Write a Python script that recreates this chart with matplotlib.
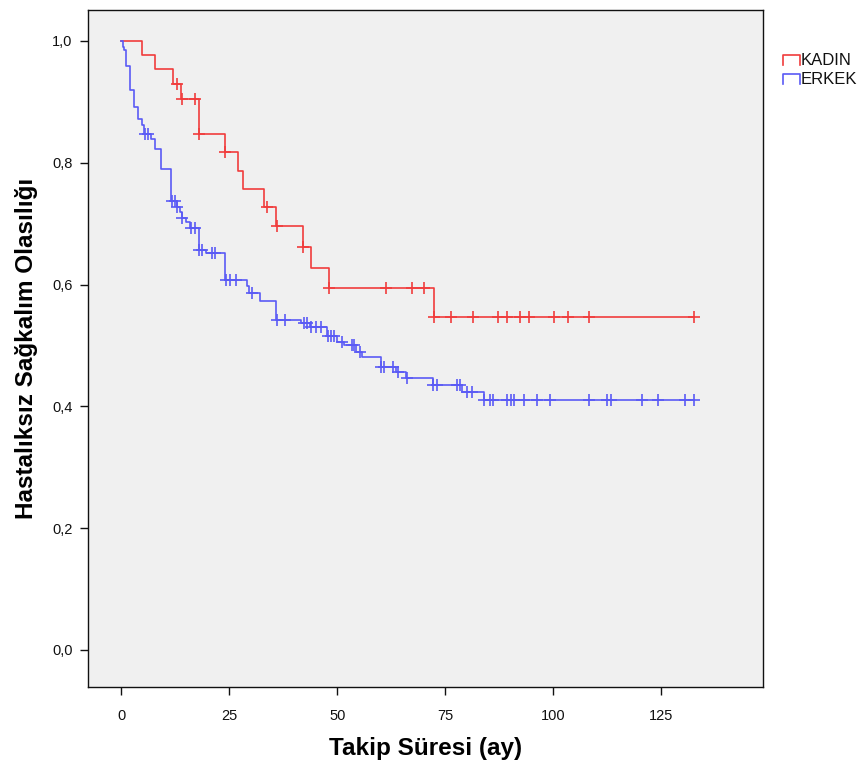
import numpy as np
import matplotlib.pyplot as plt
from matplotlib.lines import Line2D

plt.rcParams['font.family'] = ['Liberation Sans', 'DejaVu Sans']

# KADIN (kadın hastalar)
kadin_olay_t = [4.8, 7.9, 12.0, 13.9, 18.0, 24.0, 27.1, 28.1, 33.1, 35.9, 42.0, 44.0, 48.0, 72.3]
kadin_olay_s = [0.977, 0.954, 0.929, 0.904, 0.847, 0.818, 0.786, 0.757, 0.727, 0.696, 0.662, 0.627, 0.594, 0.547]
kadin_sansur_t = [12.8, 14.0, 17.0, 18.0, 24.0, 33.8, 36.0, 42.0, 48.0, 61.2, 67.2, 70.1, 72.3,
                  76.2, 81.3, 87.2, 89.2, 92.3, 94.3, 100.2, 103.3, 108.2, 132.6]

# ERKEK (erkek hastalar)
erkek_olay_t = [0.3, 0.6, 1.0, 2.0, 2.9, 3.9, 4.8, 5.3, 7.0, 7.9, 9.1, 11.6, 12.9, 13.6, 14.0,
                15.0, 16.0, 18.0, 19.5, 24.0, 29.0, 29.6, 32.1, 35.9, 41.5, 43.6, 47.6, 50.0,
                51.5, 54.3, 55.8, 60.0, 63.5, 66.0, 72.2, 78.8, 84.0]
erkek_olay_s = [0.990, 0.985, 0.959, 0.919, 0.891, 0.872, 0.862, 0.848, 0.839, 0.823, 0.789, 0.737,
                0.727, 0.719, 0.710, 0.703, 0.693, 0.656, 0.652, 0.608, 0.597, 0.586, 0.573, 0.541,
                0.536, 0.531, 0.516, 0.506, 0.500, 0.489, 0.481, 0.465, 0.457, 0.446, 0.435, 0.424,
                0.410]
erkek_sansur_t = [5.5, 6.3, 11.7, 12.4, 13.0, 14.0, 16.2, 17.0, 18.1, 18.7, 20.9, 21.7, 24.2, 25.2,
                  26.5, 30.2, 36.0, 37.9, 42.2, 43.0, 44.0, 45.1, 46.3, 47.8, 48.5, 49.2, 51.0,
                  53.3, 53.8, 55.3, 60.2, 60.8, 62.9, 64.0, 66.2, 72.2, 73.0, 77.6, 78.4, 79.9,
                  81.1, 84.0, 85.3, 86.1, 89.2, 90.2, 91.0, 93.1, 96.1, 99.2, 108.2, 112.3, 113.3,
                  120.4, 124.3, 130.4, 132.6]

kirmizi = '#f03c3c'
mavi = '#5a5af5'

fig = plt.figure(figsize=(8.59, 7.65), dpi=100)
ax = fig.add_axes([0.1024, 0.102, 0.7858, 0.885])
ax.set_facecolor('#f0f0f0')


def km_ciz(olay_t, olay_s, sansur_t, renk):
    son = max(sansur_t)
    x = np.concatenate([[0], olay_t, [son]])
    y = np.concatenate([[1.0], olay_s, [olay_s[-1]]])
    ax.step(x, y, where='post', color=renk, lw=1.2)
    idx = np.searchsorted(olay_t, sansur_t, side='right')
    s_all = np.concatenate([[1.0], olay_s])
    ax.plot(sansur_t, s_all[idx], '+', color=renk, ms=9, mew=1.2)


km_ciz(kadin_olay_t, kadin_olay_s, kadin_sansur_t, kirmizi)
km_ciz(erkek_olay_t, erkek_olay_s, erkek_sansur_t, mavi)

ax.set_xlim(-7.7, 148.5)
ax.set_ylim(-0.061, 1.051)
ax.set_xticks([0, 25, 50, 75, 100, 125])
ax.set_yticks([0.0, 0.2, 0.4, 0.6, 0.8, 1.0])
ax.set_yticklabels(['0,0', '0,2', '0,4', '0,6', '0,8', '1,0'])
ax.tick_params(direction='out', length=6, width=1, labelsize=10.5, colors='#111111')
ax.tick_params(axis='x', pad=10)
ax.tick_params(axis='y', pad=5)
for sp in ax.spines.values():
    sp.set_color('#111111')
    sp.set_linewidth(1)

ax.set_xlabel('Takip Süresi (ay)', fontsize=17.5, fontweight='bold', labelpad=10)
ax.set_ylabel('Hastalıksız Sağkalım Olasılığı', fontsize=17.5, fontweight='bold', labelpad=10)

# Lejant (grafik dışında sağ üstte)
for i, (ad, renk) in enumerate([('KADIN', kirmizi), ('ERKEK', mavi)]):
    yy = 0.924 - i * 0.025
    fig.add_artist(Line2D([0.9115, 0.9115, 0.931, 0.931], [yy - 0.009, yy + 0.004, yy + 0.004, yy - 0.009],
                          color=renk, lw=1.2, transform=fig.transFigure))
    fig.text(0.932, yy - 0.003, ad, fontsize=12, va='center', ha='left', color='#111111')

plt.savefig('out.png', dpi=100)
